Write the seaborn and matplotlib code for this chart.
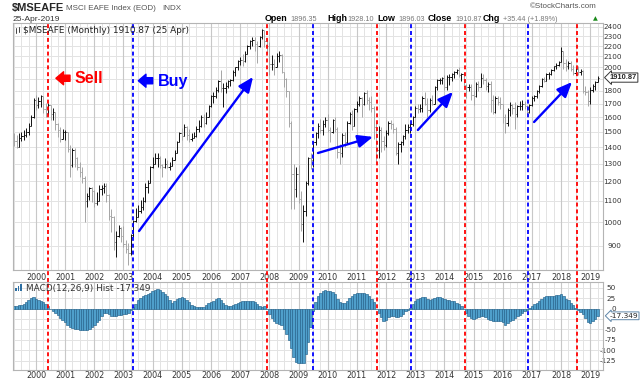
import numpy as np
import pandas as pd
import matplotlib
matplotlib.use("Agg")
import matplotlib.pyplot as plt
import matplotlib.transforms as mtransforms
from matplotlib.lines import Line2D
from matplotlib.patches import Rectangle
from matplotlib.ticker import NullLocator
import seaborn as sns

# DATOS: $MSEAFE mensual, abr-1999 .. abr-2019
opens = [
    1460, 1440, 1400, 1460, 1470, 1480, 1500, 1540, 1600,
    1730, 1690, 1720, 1760, 1660, 1630, 1690, 1620, 1640, 1550, 1510, 1450,
    1500, 1500, 1390, 1290, 1380, 1330, 1280, 1250, 1220, 1100, 1125, 1165,
    1150, 1090, 1100, 1160, 1165, 1175, 1130, 1030, 1025, 915, 940, 975,
    940, 905, 885, 870, 945, 1005, 1025, 1050, 1070, 1100, 1170, 1190,
    1280, 1300, 1330, 1330, 1290, 1280, 1300, 1280, 1285, 1320, 1360, 1430,
    1490, 1470, 1530, 1480, 1450, 1455, 1470, 1515, 1540, 1605, 1560, 1600,
    1680, 1760, 1760, 1810, 1880, 1820, 1820, 1840, 1880, 1890, 1960, 2000,
    2060, 2070, 2060, 2120, 2200, 2250, 2260, 2220, 2200, 2290, 2360, 2250,
    2200, 2030, 2030, 2000, 2100, 2110, 1960, 1900, 1800, 1560, 1240, 1160,
    1240, 1110, 990, 1050, 1190, 1330, 1320, 1430, 1490, 1540, 1510, 1550,
    1580, 1510, 1500, 1580, 1520, 1370, 1360, 1480, 1430, 1560, 1620, 1540,
    1660, 1700, 1740, 1700, 1780, 1730, 1710, 1670, 1530, 1380, 1510, 1440,
    1410, 1490, 1560, 1550, 1520, 1360, 1420, 1430, 1470, 1510, 1530, 1550,
    1600, 1670, 1660, 1670, 1740, 1700, 1650, 1730, 1700, 1830, 1890, 1890,
    1910, 1830, 1920, 1920, 1940, 1960, 1980, 1930, 1940, 1850, 1830, 1830,
    1770, 1760, 1860, 1830, 1910, 1890, 1840, 1860, 1730, 1640, 1740, 1710,
    1700, 1600, 1560, 1650, 1690, 1670, 1620, 1680, 1680, 1700, 1680, 1640,
    1690, 1740, 1760, 1800, 1840, 1900, 1880, 1940, 1940, 1980, 2010, 2020,
    2050, 2150, 2040, 2010, 2040, 1990, 1950, 1990, 1960, 1970, 1800, 1790,
    1720, 1810, 1840, 1875,
]
highs = [
    1489, 1478, 1489, 1500, 1511, 1522, 1557, 1616, 1741,
    1767, 1754, 1767, 1760, 1703, 1703, 1690, 1665, 1640, 1557, 1534, 1520,
    1510, 1500, 1410, 1392, 1392, 1341, 1310, 1282, 1230, 1140, 1172, 1170,
    1155, 1146, 1180, 1181, 1190, 1190, 1135, 1060, 1030, 960, 987, 980,
    985, 923, 910, 950, 1010, 1064, 1080, 1104, 1121, 1190, 1208, 1285,
    1341, 1361, 1361, 1345, 1300, 1330, 1320, 1310, 1340, 1380, 1440, 1500,
    1525, 1555, 1535, 1515, 1490, 1500, 1540, 1580, 1615, 1625, 1640, 1690,
    1770, 1795, 1835, 1890, 1977, 1864, 1877, 1890, 1900, 1977, 2005, 2065,
    2095, 2120, 2150, 2210, 2260, 2290, 2290, 2250, 2300, 2380, 2365, 2270,
    2240, 2110, 2080, 2130, 2150, 2120, 1960, 1910, 1800, 1570, 1300, 1280,
    1290, 1150, 1080, 1200, 1340, 1360, 1440, 1500, 1560, 1590, 1580, 1600,
    1620, 1530, 1590, 1600, 1530, 1420, 1490, 1500, 1570, 1640, 1650, 1670,
    1720, 1760, 1750, 1790, 1810, 1750, 1760, 1680, 1560, 1540, 1530, 1470,
    1510, 1570, 1580, 1560, 1530, 1430, 1440, 1480, 1550, 1550, 1560, 1610,
    1680, 1700, 1700, 1760, 1790, 1740, 1740, 1770, 1840, 1900, 1910, 1920,
    1930, 1930, 1940, 1950, 1970, 1990, 2000, 1950, 1960, 1860, 1860, 1860,
    1810, 1870, 1880, 1950, 1940, 1910, 1870, 1880, 1770, 1760, 1760, 1750,
    1700, 1620, 1670, 1710, 1700, 1710, 1690, 1720, 1730, 1720, 1690, 1700,
    1760, 1770, 1810, 1850, 1910, 1920, 1950, 1960, 1990, 2010, 2040, 2060,
    2190, 2150, 2080, 2060, 2060, 2020, 2000, 2010, 1990, 1980, 1840, 1810,
    1830, 1860, 1880, 1928,
]
lows = [
    1406, 1392, 1400, 1441, 1445, 1467, 1478, 1535, 1595,
    1653, 1665, 1678, 1628, 1604, 1616, 1580, 1580, 1511, 1467, 1435, 1450,
    1445, 1372, 1226, 1280, 1282, 1263, 1226, 1190, 1002, 1072, 1104, 1096,
    1072, 1080, 1100, 1130, 1138, 1096, 1010, 958, 883, 857, 937, 916,
    896, 870, 825, 865, 937, 1002, 1025, 1040, 1056, 1096, 1138, 1190,
    1272, 1295, 1282, 1272, 1226, 1275, 1272, 1263, 1285, 1320, 1360, 1430,
    1445, 1470, 1445, 1435, 1440, 1455, 1465, 1500, 1530, 1530, 1550, 1600,
    1678, 1703, 1741, 1795, 1790, 1678, 1781, 1822, 1840, 1880, 1925, 1977,
    2025, 2010, 2050, 2120, 2170, 2200, 2155, 2040, 2190, 2270, 2190, 2130,
    1930, 1977, 1930, 2000, 2050, 1950, 1835, 1754, 1530, 1060, 1060, 1120,
    1090, 960, 915, 1030, 1180, 1270, 1280, 1410, 1460, 1490, 1480, 1530,
    1500, 1430, 1490, 1500, 1330, 1300, 1340, 1400, 1420, 1550, 1510, 1540,
    1640, 1680, 1600, 1690, 1700, 1650, 1640, 1450, 1310, 1330, 1370, 1380,
    1400, 1480, 1520, 1490, 1350, 1300, 1370, 1410, 1450, 1490, 1490, 1540,
    1600, 1630, 1640, 1640, 1690, 1600, 1640, 1690, 1700, 1810, 1860, 1860,
    1810, 1810, 1850, 1880, 1910, 1940, 1920, 1880, 1840, 1740, 1800, 1730,
    1690, 1750, 1800, 1830, 1860, 1810, 1790, 1640, 1620, 1630, 1690, 1660,
    1560, 1490, 1540, 1610, 1620, 1520, 1600, 1650, 1650, 1660, 1620, 1630,
    1680, 1720, 1740, 1780, 1830, 1870, 1880, 1900, 1930, 1970, 1990, 2010,
    2050, 1990, 1970, 1990, 1970, 1930, 1930, 1930, 1930, 1780, 1770, 1680,
    1700, 1790, 1810, 1870,
]
closes = [
    1440, 1400, 1460, 1470, 1480, 1500, 1540, 1600, 1730,
    1690, 1720, 1760, 1660, 1630, 1690, 1620, 1640, 1550, 1510, 1450, 1500,
    1500, 1390, 1290, 1380, 1330, 1280, 1250, 1220, 1100, 1125, 1165, 1150,
    1090, 1100, 1160, 1165, 1175, 1130, 1030, 1025, 915, 940, 975, 940,
    905, 885, 870, 945, 1005, 1025, 1050, 1070, 1100, 1170, 1190, 1280,
    1300, 1330, 1330, 1290, 1280, 1300, 1280, 1285, 1320, 1360, 1430, 1490,
    1470, 1530, 1480, 1450, 1455, 1470, 1515, 1540, 1605, 1560, 1600, 1680,
    1760, 1760, 1810, 1880, 1820, 1820, 1840, 1880, 1890, 1960, 2000, 2060,
    2070, 2060, 2120, 2200, 2250, 2260, 2220, 2200, 2290, 2360, 2250, 2200,
    2030, 2030, 2000, 2100, 2110, 1960, 1900, 1800, 1560, 1240, 1160, 1240,
    1110, 990, 1050, 1190, 1330, 1320, 1430, 1490, 1540, 1510, 1550, 1580,
    1510, 1500, 1580, 1520, 1370, 1360, 1480, 1430, 1560, 1620, 1540, 1660,
    1700, 1740, 1700, 1780, 1730, 1710, 1670, 1530, 1380, 1510, 1440, 1410,
    1490, 1560, 1550, 1520, 1360, 1420, 1430, 1470, 1510, 1530, 1550, 1600,
    1670, 1660, 1670, 1740, 1700, 1650, 1730, 1700, 1830, 1890, 1890, 1910,
    1830, 1920, 1920, 1940, 1960, 1980, 1930, 1940, 1850, 1830, 1830, 1770,
    1760, 1860, 1830, 1910, 1890, 1840, 1860, 1730, 1640, 1740, 1710, 1700,
    1600, 1560, 1650, 1690, 1670, 1620, 1680, 1680, 1700, 1680, 1640, 1690,
    1740, 1760, 1800, 1840, 1900, 1880, 1940, 1940, 1980, 2010, 2020, 2050,
    2150, 2040, 2010, 2040, 1990, 1950, 1990, 1960, 1970, 1800, 1790, 1720,
    1810, 1840, 1875, 1910.87,
]
macd_hist = [
    6, 7, 8, 9, 11, 15, 20, 25, 27,
    24, 21, 19, 16, 12, 5, -1, -5, -10, -15, -22, -27,
    -33, -39, -44, -47, -49, -50, -51, -51, -51, -51, -49, -45,
    -39, -33, -27, -18, -11, -10, -13, -17, -19, -18, -16, -15,
    -14, -12, -11, -3, 4, 12, 20, 26, 29, 33, 36, 38,
    41, 45, 47, 44, 40, 35, 29, 20, 14, 18, 22, 26,
    27, 26, 21, 15, 9, 5, 3, 3, 3, 4, 8, 13,
    16, 19, 23, 25, 21, 14, 9, 6, 6, 8, 10, 13,
    15, 17, 18, 18, 18, 18, 15, 12, 6, 3, 5, -1,
    -12, -22, -30, -35, -37, -40, -50, -60, -75, -95, -115, -128,
    -131, -131, -130, -110, -80, -45, -5, 15, 30, 38, 43, 44,
    42, 41, 40, 35, 24, 15, 13, 14, 19, 26, 31, 35,
    38, 38, 38, 37, 35, 30, 24, 15, 0, -10, -20, -30,
    -27, -21, -19, -19, -21, -20, -17, -12, -7, -3, 2, 10,
    17, 22, 25, 27, 27, 23, 21, 23, 25, 27, 27, 25,
    22, 21, 21, 19, 17, 14, 10, 5, 0, -10, -17, -23,
    -26, -23, -21, -19, -19, -21, -24, -28, -31, -31, -31, -30,
    -33, -39, -35, -31, -27, -23, -19, -15, -11, -6, -3, 1,
    5, 10, 14, 19, 24, 27, 29, 30, 30, 31, 32, 32,
    35, 30, 24, 20, 14, 8, 1, -4, -8, -14, -22, -33,
    -35, -30, -24, -17.349,
]
months = pd.period_range("1999-04", periods=len(closes), freq="M")
years = list(range(2000, 2020))
price_grid = list(range(900, 2500, 100))
price_labels = [p for p in price_grid if p != 1900]   # 1900 queda tapado por la etiqueta
macd_grid = [50, 25, 0, -25, -50, -75, -100, -125]
macd_labels = [t for t in macd_grid if t != -25]      # -25 queda tapado por la etiqueta

# senales (posicion en meses desde abr-1999)
sell_signals = [14.07, 104.2, 149.4, 185.5, 231.4]
buy_signals = [49.0, 123.0, 163.3, 211.5]

RED = '#ff0000'
BLUE = '#0000ff'
GRID = '#e3e3e3'
GRID_YEAR = '#c8c8c8'
SPINE = '#b4b4b4'

sns.set_style("white")
plt.rcParams['font.family'] = ['Liberation Sans', 'DejaVu Sans']

idx = np.arange(len(closes))
year_pos = [i for i, m in enumerate(months) if m.month == 1]
quarter_pos = [i for i, m in enumerate(months) if m.month in (4, 7, 10)]


def fx(x):
    return x / 640


def fy(y):
    return 1 - y / 382


fig = plt.figure(figsize=(6.4, 3.82), dpi=100)
ax = fig.add_axes([fx(13), fy(270), 590 / 640, 247 / 382])
axm = fig.add_axes([fx(13), fy(370), 590 / 640, 88 / 382])

XLIM = (-0.45, 242.25)
DASH = (0, (2.2, 1.6))

# PANEL DE PRECIO
ax.set_yscale('log')
ax.set_ylim(807, 2440)
ax.set_xlim(*XLIM)
for p in price_grid:
    ax.axhline(p, color=GRID, lw=0.7, zorder=0)
for q in quarter_pos:
    ax.axvline(q, color=GRID, lw=0.7, zorder=0)
for q in year_pos:
    ax.axvline(q, color=GRID_YEAR, lw=0.8, zorder=0)

o, h, l, c = map(np.array, (opens, highs, lows, closes))
bar_col = np.where(c >= o, '#111111', '#a6a6a6')
ax.vlines(idx, l, h, colors=bar_col, lw=0.7, zorder=2)
ax.hlines(o, idx - 0.5, idx, colors=bar_col, lw=0.7, zorder=2)
ax.hlines(c, idx, idx + 0.5, colors=bar_col, lw=0.7, zorder=2)

ax.yaxis.tick_right()
ax.yaxis.set_minor_locator(NullLocator())
ax.set_yticks(price_labels, [str(p) for p in price_labels], ha='right',
              family='DejaVu Sans')
ax.tick_params(axis='y', length=0, pad=13.5, labelsize=5.2, labelcolor='#333333')
ax.set_xticks(year_pos, [str(y) for y in years], family='DejaVu Sans')
ax.tick_params(axis='x', length=0, pad=2.3, labelsize=5.8, labelcolor='#333333')
for s in ax.spines.values():
    s.set_color(SPINE)
    s.set_linewidth(0.8)

for x in sell_signals:
    ax.axvline(x, ymin=-12 / 247, ymax=1, color=RED, lw=1.3, ls=DASH,
               clip_on=False, zorder=3)
for x in buy_signals:
    ax.axvline(x, ymin=-12 / 247, ymax=1, color=BLUE, lw=1.3, ls=DASH,
               clip_on=False, zorder=3)

# flechas de tendencia
trend_arrows = [((51.4, 961), (98.3, 1916)),
                ((125.0, 1363), (147.6, 1465)),
                ((166.1, 1511), (180.5, 1792)),
                ((213.9, 1566), (229.5, 1873))]
for start, end in trend_arrows:
    ax.annotate('', xy=end, xytext=start, zorder=4,
                arrowprops=dict(arrowstyle='-|>,head_length=0.75,head_width=0.32',
                                color=BLUE, lw=1.7, shrinkA=0, shrinkB=0,
                                mutation_scale=12))

ax.annotate('', xy=(17.2, 1905), xytext=(23.0, 1905), zorder=4,
            arrowprops=dict(arrowstyle='simple,head_length=0.5,head_width=0.85,tail_width=0.4',
                            fc=RED, ec=RED, shrinkA=0, shrinkB=0, mutation_scale=11))
ax.text(25.0, 1863, 'Sell', color=RED, fontsize=11.5, fontweight='bold',
        va='baseline', ha='left', zorder=4)
ax.annotate('', xy=(51.1, 1884), xytext=(57.0, 1884), zorder=4,
            arrowprops=dict(arrowstyle='simple,head_length=0.5,head_width=0.85,tail_width=0.4',
                            fc=BLUE, ec=BLUE, shrinkA=0, shrinkB=0, mutation_scale=11))
ax.text(59.2, 1843, 'Buy', color=BLUE, fontsize=11.5, fontweight='bold',
        va='baseline', ha='left', zorder=4)

trans = mtransforms.blended_transform_factory(ax.transAxes, ax.transData)
ax.text(1.011, closes[-1], f"{closes[-1]:.2f}", transform=trans, ha='left',
        va='center', fontsize=5.4, fontweight='bold', clip_on=False, zorder=6,
        bbox=dict(boxstyle='larrow,pad=0.15', fc='white', ec='#333333', lw=0.7))

# PANEL MACD
sns.barplot(x=idx, y=macd_hist, ax=axm, native_scale=True, width=1.0,
            color='#4f9fcb', saturation=1, edgecolor='#23628c', linewidth=0.45,
            errorbar=None, zorder=2)
axm.set_xlim(*XLIM)
axm.set_ylim(-147.3, 63.7)
axm.set_xlabel('')
axm.set_ylabel('')
for t in macd_grid:
    axm.axhline(t, color=GRID, lw=0.7, zorder=0)
for q in quarter_pos:
    axm.axvline(q, color=GRID, lw=0.7, zorder=0)
for q in year_pos:
    axm.axvline(q, color=GRID_YEAR, lw=0.8, zorder=0)
for x in sell_signals:
    axm.axvline(x, color=RED, lw=1.3, ls=DASH, zorder=3)
for x in buy_signals:
    axm.axvline(x, color=BLUE, lw=1.3, ls=DASH, zorder=3)
axm.yaxis.tick_right()
axm.set_yticks(macd_labels, [str(t) for t in macd_labels], ha='right',
               family='DejaVu Sans')
axm.tick_params(axis='y', length=0, pad=9.5, labelsize=5.2, labelcolor='#333333')
axm.set_xticks(year_pos, [str(y) for y in years], family='DejaVu Sans')
axm.tick_params(axis='x', length=0, pad=1.0, labelsize=5.8, labelcolor='#333333')
for s in axm.spines.values():
    s.set_color(SPINE)
    s.set_linewidth(0.8)

transm = mtransforms.blended_transform_factory(axm.transAxes, axm.transData)
axm.text(1.011, macd_hist[-1], f"{macd_hist[-1]:.3f}", transform=transm, ha='left',
         va='center', fontsize=5.4, clip_on=False, zorder=6, family='DejaVu Sans',
         bbox=dict(boxstyle='larrow,pad=0.12', fc='white', ec='#5f86a8', lw=0.7))

# TEXTOS DE CABECERA
fig.text(fx(12), fy(10.5), r'\$MSEAFE', fontsize=8, fontweight='bold', va='baseline')
fig.text(fx(66), fy(10.5), 'MSCI EAFE Index (EOD)', fontsize=5.8, color='#555555',
         va='baseline')
fig.text(fx(162), fy(10.5), 'INDX', fontsize=5.8, color='#555555', va='baseline')
fig.text(fx(13), fy(20.7), '25-Apr-2019', fontsize=6.1, color='#333333', va='baseline')
fig.text(fx(530), fy(8.5), '\u00a9StockCharts.com', fontsize=5.8, color='#555555',
         va='baseline')

header = [(265, 'Open', True), (290, '1896.35', False),
          (327, 'High', True), (347, '1928.10', False),
          (377, 'Low', True), (398, '1896.03', False),
          (428, 'Close', True), (455, '1910.87', False),
          (483, 'Chg', True), (503, '+35.44 (+1.89%)', False)]
for x, txt, bold in header:
    fig.text(fx(x), fy(20.7), txt, fontsize=6.4 if bold else 5.2,
             fontweight='bold' if bold else 'normal',
             color='#000000' if bold else '#777777', va='baseline')
fig.text(fx(593), fy(20.5), '\u25b2', fontsize=4.5, color='#1a8a1a', va='baseline',
         family='DejaVu Sans')

fig.text(fx(23), fy(33), r'\$MSEAFE (Monthly) 1910.87 (25 Apr)', fontsize=6.4,
         family='DejaVu Sans', color='#222222', va='baseline')
fig.text(fx(26), fy(290.7), 'MACD(12,26,9) Hist -17.349', fontsize=6.4,
         family='DejaVu Sans', color='#333333', va='baseline')

# iconos
for xx, y0, y1 in [(16, 28, 33), (19, 27, 32)]:
    fig.add_artist(Line2D([fx(xx), fx(xx)], [fy(y0), fy(y1)], color='#444444', lw=0.7))
for k, hh in enumerate([3, 5, 7]):
    fig.add_artist(Rectangle((fx(15 + 2.5 * k), fy(291)), 1.8 / 640, hh / 382,
                             fc='#2d6fa3', ec='none'))

fig.savefig('out.png', dpi=100)
